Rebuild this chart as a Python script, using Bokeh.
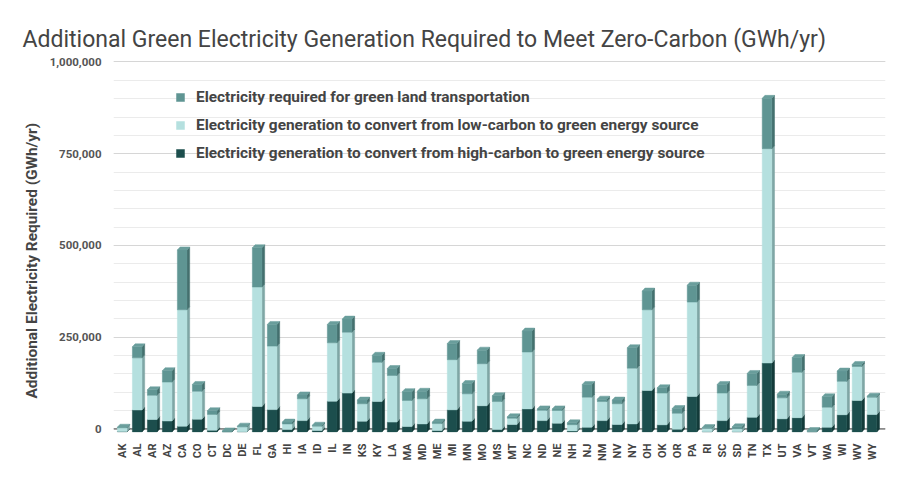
import math
from bokeh.plotting import figure
from bokeh.models import FixedTicker, Span, Legend, LegendItem, NumeralTickFormatter, Title
from bokeh.embed import file_html
from bokeh.resources import INLINE

states = ["AK", "AL", "AR", "AZ", "CA", "CO", "CT", "DC", "DE", "FL", "GA", "HI", "IA", "ID",
          "IL", "IN", "KS", "KY", "LA", "MA", "MD", "ME", "MI", "MN", "MO", "MS", "MT", "NC",
          "ND", "NE", "NH", "NJ", "NM", "NV", "NY", "OH", "OK", "OR", "PA", "RI", "SC", "SD",
          "TN", "TX", "UT", "VA", "VT", "WA", "WI", "WV", "WY"]

# Electricity generation to convert from high-carbon to green energy source (GWh/yr)
high_carbon = [1500, 60000, 34000, 30000, 16000, 35000, 5000, 500, 1000, 69500, 61000, 7000,
               31000, 4000, 84000, 106000, 29500, 83000, 27000, 15000, 22000, 4000, 60500,
               29500, 71500, 7000, 20500, 63000, 31000, 24000, 3000, 13000, 31000, 20500,
               22000, 113000, 19600, 7600, 97000, 1000, 31000, 1000, 40000, 188000, 36000,
               39000, 500, 13000, 47000, 86000, 47700]

# Electricity generation to convert from low-carbon to green energy source (GWh/yr)
low_carbon = [10000, 142000, 66000, 106000, 317000, 76000, 43000, 500, 13000, 325500, 173000,
              15000, 59500, 12000, 159000, 166000, 47500, 107000, 127000, 71000, 68500, 19000,
              136500, 74500, 114500, 76000, 17000, 155000, 28000, 34600, 17000, 82000, 52000,
              56500, 152000, 220000, 86400, 43400, 257000, 9000, 75000, 8000, 87000, 584000,
              57000, 124000, 1000, 54600, 91000, 92600, 47000]

# Electricity required for green land transportation (GWh/yr)
transport = [1500, 30000, 15000, 31000, 163000, 18500, 10000, 2000, 2000, 107000, 59000, 5000,
             10500, 2500, 50000, 35600, 10000, 19000, 19000, 24000, 20500, 4000, 44000, 28000,
             37000, 16000, 4000, 57000, 4000, 4400, 5000, 34500, 6500, 10000, 55600, 51000,
             14500, 13000, 46000, 2000, 23500, 5000, 32500, 137000, 10000, 40000, 2500, 28400,
             28000, 5400, 3000]

y_ticks = [0, 250000, 500000, 750000, 1000000]
y_minor = [50000 * k for k in range(21)]

labels = ["Electricity required for green land transportation",
          "Electricity generation to convert from low-carbon to green energy source",
          "Electricity generation to convert from high-carbon to green energy source"]
y_title = "Additional Electricity Required (GWh/yr)"

MED, MED_SIDE, MED_CAP = "#5f9593", "#44706e", "#6a9e9c"
LIGHT, LIGHT_SIDE = "#b5e0df", "#7fa6a5"
DARK, DARK_SIDE = "#1c4e4d", "#133a39"

n = len(states)
idx = list(range(n))

W, H = 900, 485
BL, BR, BT, BB = 113, 15, 60, 53
X0, X1 = -0.58, 50.9
Y0, Y1 = -9540, 1004000
p = figure(width=W, height=H, output_backend="svg", toolbar_location=None,
           x_range=(X0, X1), y_range=(Y0, Y1),
           min_border_left=BL, min_border_right=BR, min_border_top=BT, min_border_bottom=BB)
p.outline_line_color = None
p.background_fill_color = "white"

px_y = (H - BT - BB) / (Y1 - Y0)

# 3D geometry (depth in data units)
w = 0.64
dx = 0.18
d = 3.0 / px_y

b1 = [h for h in high_carbon]
b2 = [h + l for h, l in zip(high_carbon, low_carbon)]
b3 = [a + t for a, t in zip(b2, transport)]
b0 = [0] * n

left = [i - w / 2 for i in idx]
right = [i + w / 2 for i in idx]

baseline = Span(location=0, dimension="width", line_color="#444444", line_width=1, level="underlay")
p.add_layout(baseline)

segments = [(b0, b1, DARK, DARK_SIDE), (b1, b2, LIGHT, LIGHT_SIDE), (b2, b3, MED, MED_SIDE)]
fronts = []
for bot, top, col, side in segments:
    xs = [[r, r + dx, r + dx, r] for r in right]
    ys = [[lo - d, lo, hi, hi - d] for lo, hi in zip(bot, top)]
    p.patches(xs, ys, fill_color=side, line_color=side, line_width=0.5)
    fr = p.quad(left=left, right=right, bottom=[v - d for v in bot], top=[v - d for v in top],
                fill_color=col, line_color=col, line_width=0.5)
    fronts.append(fr)

cap_xs = [[l, l + dx, r + dx, r] for l, r in zip(left, right)]
cap_ys = [[t - d, t, t, t - d] for t in b3]
p.patches(cap_xs, cap_ys, fill_color=MED_CAP, line_color=MED_CAP, line_width=0.5)

# axes
p.yaxis.ticker = FixedTicker(ticks=y_ticks, minor_ticks=y_minor)
p.yaxis.formatter = NumeralTickFormatter(format="0,0")
p.yaxis.axis_line_color = None
p.yaxis.major_tick_line_color = None
p.yaxis.minor_tick_line_color = None
p.yaxis.major_label_standoff = 6
p.yaxis.major_label_text_font = "Roboto"
p.yaxis.major_label_text_font_style = "bold"
p.yaxis.major_label_text_font_size = "11.5px"
p.yaxis.major_label_text_color = "#555555"

# y axis title as a side title, shifted along the axis
ylab = Title(text=y_title, align="left", offset=34, standoff=12,
             text_font="Roboto", text_font_style="bold", text_font_size="15.4px",
             text_color="#444444")
p.add_layout(ylab, "left")

p.ygrid.grid_line_color = "#d6d6d6"
p.ygrid.minor_grid_line_color = "#ebebeb"
p.xgrid.grid_line_color = None

p.xaxis.ticker = FixedTicker(ticks=idx)
p.xaxis.major_label_overrides = {i: s for i, s in zip(idx, states)}
p.xaxis.major_label_orientation = math.pi / 2
p.xaxis.axis_line_color = None
p.xaxis.major_tick_line_color = None
p.xaxis.minor_tick_line_color = None
p.xaxis.major_label_standoff = 5
p.xaxis.major_label_text_font = "Roboto"
p.xaxis.major_label_text_font_style = "bold"
p.xaxis.major_label_text_font_size = "11px"
p.xaxis.major_label_text_color = "#444444"

# title
p.title.text = "Additional Green Electricity Generation Required to Meet Zero-Carbon (GWh/yr)"
p.title.text_font = "Roboto"
p.title.text_font_size = "23px"
p.title.text_font_style = "normal"
p.title.text_color = "#444444"
p.title.align = "left"
p.title.offset = -91
p.title.standoff = 16

legend = Legend(items=[LegendItem(label=labels[0], renderers=[fronts[2]]),
                       LegendItem(label=labels[1], renderers=[fronts[1]]),
                       LegendItem(label=labels[2], renderers=[fronts[0]])],
                location=(62, 269), padding=0, margin=0, spacing=8,
                label_height=20, glyph_height=10, glyph_width=10, label_standoff=11,
                background_fill_alpha=0, border_line_color=None,
                label_text_font="Roboto", label_text_font_style="bold",
                label_text_font_size="15.4px", label_text_color="#444444")
p.add_layout(legend)

open("out.html", "w").write(file_html(p, INLINE))
